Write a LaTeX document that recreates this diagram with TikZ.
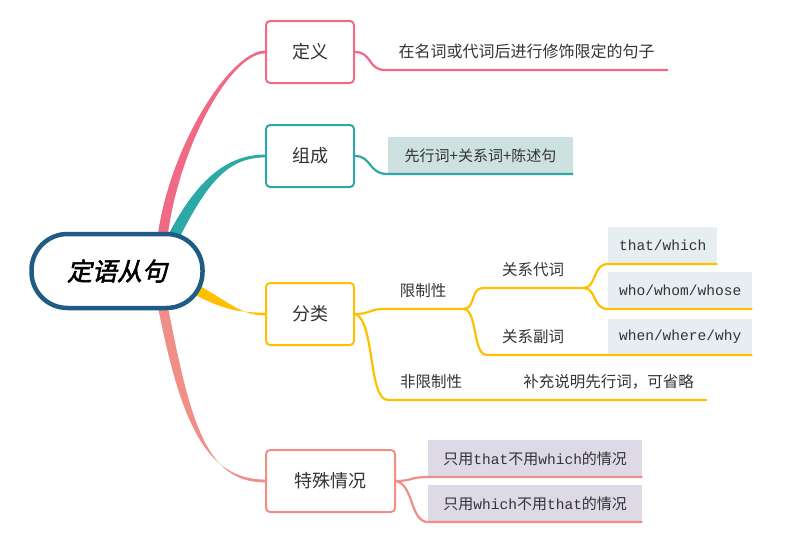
\documentclass[tikz,border=0pt]{standalone}
\usepackage{fontspec}
\setmainfont{Noto Sans CJK SC}
\setmonofont[Scale=0.97]{Liberation Mono}
\newfontfamily\rootfont[FakeSlant=0.22,FakeBold=2]{Noto Sans CJK SC}
\usepackage{tikz}
\usetikzlibrary{calc, positioning, backgrounds}

\definecolor{pinkc}{HTML}{F16A85}
\definecolor{tealc}{HTML}{2CA8A5}
\definecolor{amberc}{HTML}{FFC000}
\definecolor{salmonc}{HTML}{F08E88}
\definecolor{rootc}{HTML}{1F5B82}
\definecolor{tealfill}{HTML}{CDE1E0}
\definecolor{bluefill}{HTML}{E7EEF1}
\definecolor{lilacfill}{HTML}{DDD9E7}

% tapered main branch: colour, start, half width at start, control 1, control 2, end
\newcommand{\branchfill}[6]{%
	\fill[#1] ($(#2)+(#3)$) .. controls ($(#4)+(#3)$) and ($(#5)+(0,1.4)$) .. ($(#6)+(0,1.4)$)
	-- ($(#6)+(0,-1.4)$) .. controls ($(#5)+(0,-1.4)$) and ($(#4)-(#3)$) .. ($(#2)-(#3)$) -- cycle;}

\begin{document}
\begin{tikzpicture}[
		x=1pt, y=-1pt,
		every node/.style={text=black!80},
		hub/.style={
			rectangle,
			rounded corners=36pt,
			draw=rootc,
			line width=4.5pt,
			fill=white,
			minimum width=171pt,
			minimum height=74pt,
			text=black,
			font=\rootfont\fontsize{25}{25}\selectfont
		},
		topic/.style={
			rectangle,
			rounded corners=4pt,
			draw,
			line width=2pt,
			fill=white,
			minimum width=88pt,
			minimum height=62pt,
			font=\fontsize{18}{18}\selectfont
		},
		leaf/.style={
			inner ysep=11pt,
			font=\fontsize{15.5}{15.5}\selectfont
		},
		tag/.style={
			inner sep=0pt,
			minimum height=37pt,
			font=\fontsize{15}{15}\selectfont
		},
		mono/.style={
			tag,
			fill=bluefill,
			font=\ttfamily\fontsize{15}{15}\selectfont
		},
		link/.style={
			line width=2.2pt
		}
		]
		
		\useasboundingbox (0,0) rectangle (800,549);
		
		% Centro y temas
		\node[hub] (root) at (117,271) {定语从句};
		
		\node[topic, draw=pinkc] (d1) at (310,52) {定义};
		\node[topic, draw=tealc] (c1) at (310,156) {组成};
		\node[topic, draw=amberc] (f1) at (310,314) {分类};
		\node[topic, draw=salmonc, minimum width=129pt] (t1) at (330.5,481) {特殊情况};
		
		% Ramas principales
		\begin{scope}[on background layer]
			\coordinate (pk) at ($(root.north)+(45,10)$);
			\coordinate (tl) at ($(root.north)+(55,8)$);
			\coordinate (am) at ($(root.east)+(-10,18)$);
			\coordinate (sa) at ($(root.south)+(45,-8)$);
			\branchfill{pinkc}{pk}{5,0}{172,150}{230,52}{d1.west}
			\branchfill{tealc}{tl}{5,2.5}{200,185}{225,156}{c1.west}
			\branchfill{amberc}{am}{1.5,-5}{225,305}{240,314}{f1.west}
			\branchfill{salmonc}{sa}{5,0}{185,420}{205,481}{t1.west}
		\end{scope}
		
		% Definición
		\node[leaf, anchor=south, minimum width=283pt, font=\fontsize{16}{16}\selectfont] (d1t) at (526.5,70)
		{在名词或代词后进行修饰限定的句子};
		\draw[link, pinkc] (d1.east) .. controls (372,52) and (368,70) .. (d1t.south west) -- (d1t.south east);
		
		% Composición
		\node[tag, anchor=south, fill=tealfill, minimum width=185pt] (c1t) at (480.5,174)
		{先行词+关系词+陈述句};
		\draw[link, tealc] (c1.east) .. controls (372,156) and (368,174) .. (c1t.south west) -- (c1t.south east);
		
		% Clasificación
		\node[leaf, anchor=south, minimum width=80pt] (xz) at (423,309) {限制性};
		\node[leaf, anchor=south west, inner xsep=12pt] (fxz) at (388,400) {非限制性};
		\node[leaf, anchor=south east, inner xsep=13pt] (bc) at (707,400) {补充说明先行词，可省略};
		\node[leaf, anchor=south west, inner xsep=19pt] (gd) at (483,288) {关系代词};
		\node[leaf, anchor=south west, inner xsep=15pt] (gf) at (487,355) {关系副词};
		
		\node[mono, anchor=south west, minimum width=109pt] (w1) at (608,264) {that/which};
		\node[mono, anchor=south west, minimum width=144pt] (w2) at (608,309) {who/whom/whose};
		\node[mono, anchor=south west, minimum width=144pt, minimum height=36pt] (w3) at (608,355) {when/where/why};
		
		\draw[link, amberc] (f1.east) .. controls (370,314) and (370,309) .. (xz.south west) -- (xz.south east);
		\draw[link, amberc] (f1.east) .. controls (375,320) and (368,400) .. (fxz.south west) -- (fxz.south east)
		-- (bc.south west) -- (bc.south east);
		\draw[link, amberc] (xz.south east) .. controls (476,309) and (470,288) .. (gd.south west) -- (gd.south east);
		\draw[link, amberc] (xz.south east) .. controls (478,309) and (472,355) .. (gf.south west) -- (gf.south east)
		-- (w3.south west) -- (w3.south east);
		\draw[link, amberc] (gd.south east) .. controls (597,288) and (592,264) .. (w1.south west) -- (w1.south east);
		\draw[link, amberc] (gd.south east) .. controls (597,288) and (592,309) .. (w2.south west) -- (w2.south east);
		
		% Casos especiales
		\node[tag, anchor=south west, fill=lilacfill, minimum width=214pt] (s1) at (428,477)
		{只用\texttt{that}不用\texttt{which}的情况};
		\node[tag, anchor=south west, fill=lilacfill, minimum width=214pt] (s2) at (428,522)
		{只用\texttt{which}不用\texttt{that}的情况};
		
		\draw[link, salmonc] (t1.east) .. controls (412,481) and (410,477) .. (s1.south west) -- (s1.south east);
		\draw[link, salmonc] (t1.east) .. controls (414,485) and (410,522) .. (s2.south west) -- (s2.south east);
		
	\end{tikzpicture}
\end{document}
